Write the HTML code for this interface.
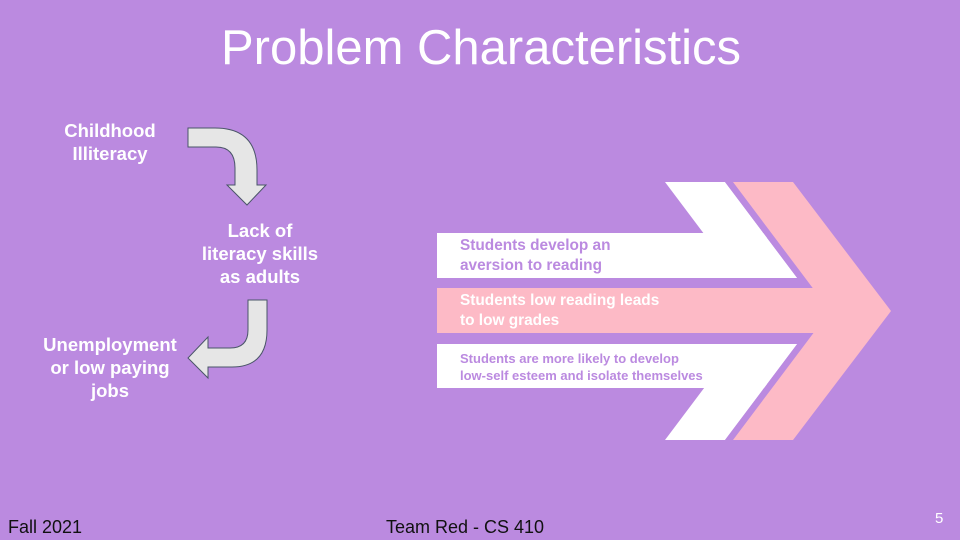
<!DOCTYPE html>
<html><head><meta charset="utf-8"><style>
body{margin:0;width:960px;height:540px;background:#bb8ae0;position:relative;overflow:hidden;font-family:"Liberation Sans",sans-serif}
.t{position:absolute;color:#fff;font-weight:bold;font-size:18.5px;line-height:23px;text-align:center}
.p{position:absolute;font-weight:bold;font-size:15.4px;line-height:20px}
</style></head><body>
<div style="position:absolute;left:0;width:962px;top:18px;text-align:center;color:#fff;font-size:49px;line-height:60px">Problem Characteristics</div>
<svg width="960" height="540" style="position:absolute;left:0;top:0">
<path d="M188,128 L215,128 Q257,128 257,170 L257,185 L266,185 L247,205 L227,185 L235,185 L235,168 Q235,147 216,147 L188,147 Z" fill="#e6e6e6" stroke="#4a5568" stroke-width="1"/>
<path d="M248,300 L267,300 L267,330 Q267,367 232,367 L208,367 L208,378 L188,358 L208,337 L208,348 L230,348 Q248,348 248,330 Z" fill="#e6e6e6" stroke="#4a5568" stroke-width="1"/>
<polygon points="665,182 725,182 822,311 725,440 665,440 762,311" fill="#fff"/>
<rect x="437" y="233" width="330" height="45" fill="#fff"/>
<rect x="437" y="344" width="330" height="44" fill="#fff"/>
<rect x="437" y="278" width="400" height="10" fill="#bb8ae0"/>
<rect x="437" y="333" width="400" height="11" fill="#bb8ae0"/>
<polygon points="725,182 733,182 830,311 733,440 725,440 822,311" fill="#bb8ae0"/>
<polygon points="733,182 793,182 891,311 793,440 733,440 830,311" fill="#fdbac6"/>
<rect x="437" y="288" width="400" height="45" fill="#fdbac6"/>
</svg>
<div class="t" style="left:40px;top:119px;width:140px">Childhood<br>Illiteracy</div>
<div class="t" style="left:185px;top:219px;width:150px">Lack of<br>literacy skills<br>as adults</div>
<div class="t" style="left:25px;top:333px;width:170px">Unemployment<br>or low paying<br>jobs</div>
<div class="p" style="left:460px;top:236px;color:#bb8ae0">Students develop an<br>aversion to reading</div>
<div class="p" style="left:460px;top:291px;color:#fff">Students low reading leads<br>to low grades</div>
<div class="p" style="left:460px;top:350px;color:#bb8ae0;font-size:13px;line-height:17px">Students are more likely to develop<br>low-self esteem and isolate themselves</div>
<div style="position:absolute;left:8px;top:517px;font-size:18px;color:#111">Fall 2021</div>
<div style="position:absolute;left:386px;top:517px;font-size:18px;color:#111">Team Red - CS 410</div>
<div style="position:absolute;left:935px;top:510px;font-size:15px;color:#fff">5</div>
</body></html>
